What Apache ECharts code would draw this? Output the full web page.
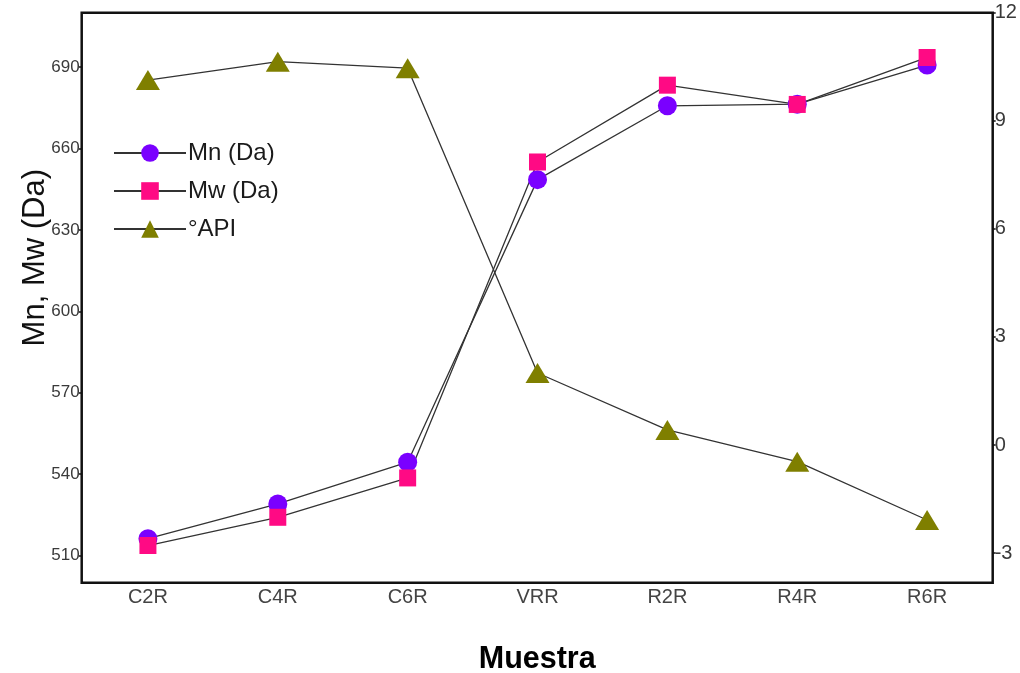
<!DOCTYPE html>
<html>
<head>
<meta charset="utf-8">
<script src="https://cdn.jsdelivr.net/npm/echarts@6/dist/echarts.min.js"></script>
<style>
  html, body { margin: 0; padding: 0; background: #fff; }
  #chart { width: 1020px; height: 673px; }
</style>
</head>
<body>
<div id="chart"></div>
<script>
// Samples along the x axis
const samples = ['C2R', 'C4R', 'C6R', 'VRR', 'R2R', 'R4R', 'R6R'];
// Number-average molecular weight (Da)
const mnValues = [516.2, 529.0, 544.4, 648.5, 675.7, 676.3, 690.7];
// Weight-average molecular weight (Da)
const mwValues = [513.7, 524.1, 538.6, 655.0, 683.3, 676.2, 693.5];
// API gravity (right axis)
const apiValues = [10.13, 10.64, 10.46, 2.0, 0.42, -0.46, -2.08];
// Tick labels
const leftTicks = [510, 540, 570, 600, 630, 660, 690];
const rightTicks = [-3, 0, 3, 6, 9, 12];

const pairs = vals => vals.map((v, i) => [i, v]);
const font = 'Arial, "Liberation Sans", sans-serif';

const chart = echarts.init(document.getElementById('chart'), null, { renderer: 'canvas' });

const lineStyle = { color: '#333333', width: 1.3 };

chart.setOption({
  backgroundColor: '#ffffff',
  animation: false,
  grid: {
    left: 81.7, right: 27.3, top: 12.7, bottom: 90.3,
    containLabel: false,
    outerBoundsMode: 'none',
    show: true, borderColor: '#111', borderWidth: 2.5, backgroundColor: 'transparent'
  },
  legend: {
    orient: 'vertical',
    left: 108, top: 136,
    itemWidth: 72, itemHeight: 22, itemGap: 14,
    textStyle: { fontFamily: font, fontSize: 24, color: '#1a1a1a', padding: [0, 0, 0, -3] },
    data: ['Mn (Da)', 'Mw (Da)', '°API']
  },
  xAxis: {
    type: 'value',
    min: -0.51, max: 6.505,
    name: 'Muestra',
    nameLocation: 'middle',
    nameGap: 61,
    nameTextStyle: { fontFamily: font, fontWeight: 'bold', fontSize: 30.5, color: '#000' },
    axisLine: { show: false },
    axisTick: { show: false },
    splitLine: { show: false },
    axisLabel: {
      customValues: samples.map((s, i) => i),
      formatter: v => samples[Math.round(v)],
      fontFamily: font, fontSize: 20, color: '#444', margin: 5
    }
  },
  yAxis: [
    {
      type: 'value',
      position: 'left',
      min: 500, max: 710,
      name: 'Mn, Mw (Da)',
      nameLocation: 'middle',
      nameGap: 31,
      nameMoveOverlap: false,
      nameTextStyle: { fontFamily: font, fontSize: 31, color: '#111', padding: [0, 0, 0, 80] },
      axisLine: { show: false, onZero: false },
      axisTick: { show: true, customValues: leftTicks, length: 3, lineStyle: { color: '#111', width: 1.5 } },
      splitLine: { show: false },
      axisLabel: { customValues: leftTicks, fontFamily: font, fontSize: 17, color: '#3a3a3a', margin: 2 }
    },
    {
      type: 'value',
      position: 'right',
      min: -3.82, max: 12,
      axisLine: { show: false, onZero: false },
      axisTick: { show: true, customValues: rightTicks, length: 3, lineStyle: { color: '#111', width: 1.5 } },
      splitLine: { show: false },
      axisLabel: { customValues: rightTicks, fontFamily: font, fontSize: 20, color: '#3a3a3a', margin: 2 }
    }
  ],
  series: [
    {
      name: 'Mn (Da)', type: 'line', yAxisIndex: 0,
      data: pairs(mnValues),
      symbol: 'circle', symbolSize: 19,
      itemStyle: { color: '#7a00ff' },
      lineStyle: lineStyle
    },
    {
      name: 'Mw (Da)', type: 'line', yAxisIndex: 0,
      data: pairs(mwValues),
      symbol: 'rect', symbolSize: 17,
      itemStyle: { color: '#ff0a84' },
      lineStyle: lineStyle
    },
    {
      name: '°API', type: 'line', yAxisIndex: 1,
      data: pairs(apiValues),
      symbol: 'triangle', symbolSize: [24, 20],
      itemStyle: { color: '#7f7f00' },
      lineStyle: lineStyle
    }
  ]
});
</script>
</body>
</html>
